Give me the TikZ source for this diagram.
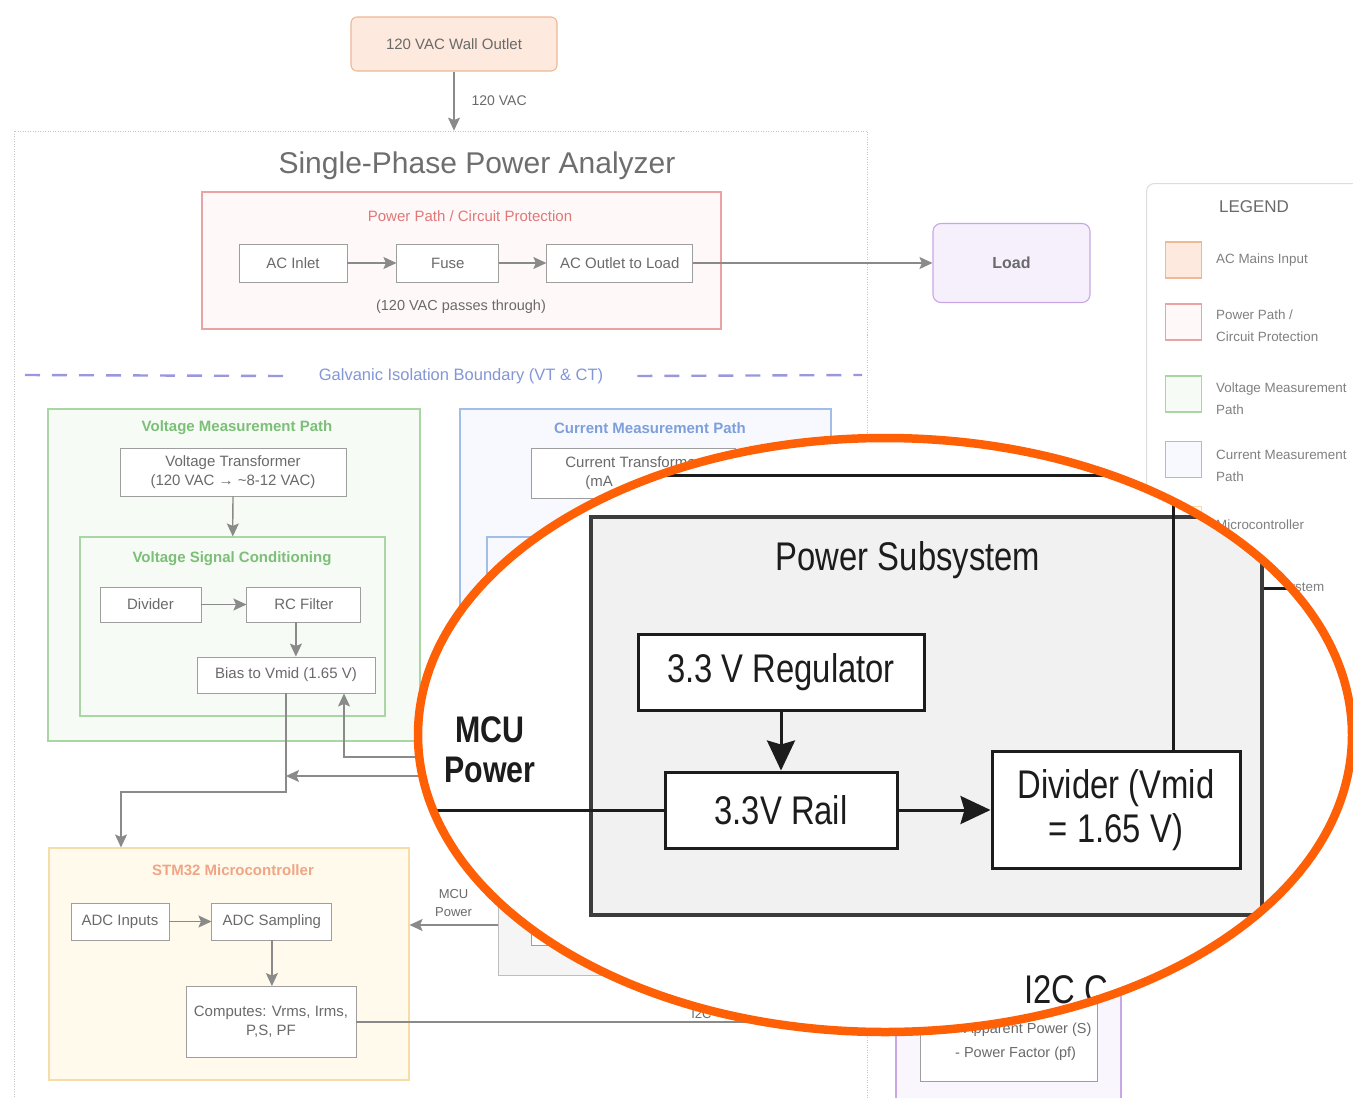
\documentclass[tikz,border=0pt]{standalone}
\usepackage{fontspec}
\setmainfont{Liberation Sans}
\newfontfamily\zoomfont[FakeStretch=0.82]{Liberation Sans}
\usepackage{tikz}
\usetikzlibrary{positioning}
\usetikzlibrary{shapes,arrows,calc,arrows.meta}

\definecolor{txtgray}{HTML}{6A6A6A}
\definecolor{titlegray}{HTML}{6E6E6E}
\definecolor{boxgray}{HTML}{9E9E9E}
\definecolor{arrgray}{HTML}{8A8A8A}
\definecolor{framegray}{HTML}{C4C4C4}
\definecolor{acfill}{HTML}{FDE9DD}
\definecolor{acdraw}{HTML}{EFB896}
\definecolor{redline}{HTML}{E9A3A3}
\definecolor{redfill}{HTML}{FFF8F8}
\definecolor{redtext}{HTML}{E07878}
\definecolor{loadfill}{HTML}{F6F0FC}
\definecolor{loaddraw}{HTML}{C9A6E6}
\definecolor{galvdraw}{HTML}{9B97DC}
\definecolor{galvtext}{HTML}{8396D6}
\definecolor{grnline}{HTML}{AAD6A5}
\definecolor{grnfill}{HTML}{F7FBF5}
\definecolor{grntext}{HTML}{7CBF78}
\definecolor{bluline}{HTML}{A2BDE7}
\definecolor{blufill}{HTML}{F7F9FE}
\definecolor{blutext}{HTML}{7D9FDC}
\definecolor{mculine}{HTML}{F6DCA8}
\definecolor{mcufill}{HTML}{FFFAEC}
\definecolor{mcutext}{HTML}{F0A585}
\definecolor{psfill}{HTML}{F5F5F5}
\definecolor{psdraw}{HTML}{BDBDBD}
\definecolor{leggray}{HTML}{DDDDDD}
\definecolor{zoomink}{HTML}{1C1C1C}
\definecolor{zoomedge}{HTML}{3C3C3C}
\definecolor{zoomfill}{HTML}{F1F1F1}
\definecolor{ringorange}{HTML}{FF5F05}

\tikzset{
    blk/.style={draw=boxgray, fill=white, line width=0.9pt, text=txtgray, inner sep=0pt, align=center, font=\fontsize{15}{19}\selectfont},
    grp/.style={line width=1.1pt, inner sep=0pt},
    ttl/.style={font=\bfseries\fontsize{15}{18}\selectfont, inner sep=0pt},
    lbl/.style={text=txtgray, inner sep=0pt, font=\fontsize{14.5}{22}\selectfont},
    arr/.style={draw=arrgray, line width=1.3pt, -{Stealth[length=13pt,width=12pt,inset=2.5pt]}},
    galvdash/.style={draw=galvdraw, line width=2.4pt, dash pattern=on 15pt off 12pt},
    zoomtxt/.style={text=zoomink, inner sep=0pt, align=center, font=\zoomfont\fontsize{40}{44}\selectfont},
    zoombox/.style={zoomtxt, draw=zoomink, fill=white, line width=3pt},
    zoomline/.style={draw=zoomink, line width=3pt},
    zoomarr/.style={zoomline, -{Stealth[length=30pt,width=28pt,inset=4pt]}},
    zoomring/.style={draw=ringorange, line width=8.5pt}
}

\begin{document}
\begin{tikzpicture}[x=1pt, y=-1pt]
    % Canvas
    \useasboundingbox (0,0) rectangle (1353,1098);
    \fill[white] (0,0) rectangle (1353,1098);

    % Wall outlet and analyzer frame
    \node[draw=acdraw, fill=acfill, rounded corners=6pt, line width=1.1pt, minimum width=206pt, minimum height=54pt, text=txtgray, font=\fontsize{15}{18}\selectfont] (outlet) at (454,44) {120 VAC Wall Outlet};
    \node[draw=framegray, line width=0.8pt, dash pattern=on 1pt off 1.5pt, minimum width=853pt, minimum height=979pt] (analyzer) at (440.5,620.5) {};
    \draw[arr] (outlet.south) -- node[right=17pt, lbl, font=\fontsize{14}{17}\selectfont] {120 VAC} (outlet.south |- analyzer.north);
    \node[text=titlegray, font=\fontsize{30}{36}\selectfont] (title) at (477,166) {Single-Phase Power Analyzer};

    % Power path
    \node[grp, draw=redline, fill=redfill, minimum width=519pt, minimum height=137pt] (protect) at (461.5,260.5) {};
    \node[text=redtext, inner sep=0pt, font=\fontsize{15}{18}\selectfont] (protecttitle) at (470,216) {Power Path / Circuit Protection};
    \node[blk, minimum width=108pt, minimum height=38pt] (acin) at (293,263) {AC Inlet};
    \node[blk, minimum width=102pt, minimum height=38pt, right=49pt of acin] (fuse) {Fuse};
    \node[blk, minimum width=146pt, minimum height=38pt, right=47pt of fuse] (acout) {AC Outlet to Load};
    \draw[arr] (acin) -- (fuse);
    \draw[arr] (fuse) -- (acout);
    \node[lbl] (passnote) at (461,307) {(120 VAC passes through)};

    % Load
    \node[draw=loaddraw, fill=loadfill, rounded corners=8pt, line width=1.1pt, minimum width=157pt, minimum height=79pt, text=txtgray, font=\bfseries\fontsize{16}{19}\selectfont] (load) at (1011.5,263) {Load};
    \draw[arr] (acout) -- (load);

    % Isolation boundary
    \node[text=galvtext, inner sep=0pt, font=\fontsize{16.5}{20}\selectfont] (galv) at (461,376) {Galvanic Isolation Boundary (VT \& CT)};
    \coordinate (isoleft) at (25,375);
    \coordinate (isoright) at (862,375);
    \draw[galvdash] (isoleft) -- ([xshift=-35pt]galv.west);
    \draw[galvdash] ([xshift=34pt]galv.east) -- (isoright);

    % Voltage measurement path
    \node[grp, draw=grnline, fill=grnfill, minimum width=372pt, minimum height=332pt] (vpath) at (234,575) {};
    \node[ttl, text=grntext] (vpathtitle) at (237,428) {Voltage Measurement Path};
    \node[blk, minimum width=226pt, minimum height=48pt] (vt) at (233,472) {Voltage Transformer\\(120 VAC → \textasciitilde 8-12 VAC)};
    \node[grp, draw=grnline, fill=grnfill, minimum width=305pt, minimum height=179pt] (vsc) at (232.5,626.5) {};
    \draw[arr] (vt) -- (vsc);
    \node[ttl, text=grntext] (vsctitle) at (232,559) {Voltage Signal Conditioning};
    \node[blk, minimum width=101pt, minimum height=35pt] (divider) at (150.5,604.5) {Divider};
    \node[blk, minimum width=114pt, minimum height=35pt, right=45pt of divider] (rcf) {RC Filter};
    \node[blk, minimum width=178pt, minimum height=36pt] (bias) at (286,675) {Bias to Vmid (1.65 V)};
    \draw[arr] (divider) -- (rcf);
    \draw[arr] ([xshift=-8pt]rcf.south) -- ([xshift=-8pt]rcf.south |- bias.north);

    % Current measurement path
    \node[grp, draw=bluline, fill=blufill, minimum width=371pt, minimum height=382pt] (ipath) at (645.5,600) {};
    \node[ttl, text=blutext] (ipathtitle) at (650,428) {Current Measurement Path};
    \node[blk, align=left, minimum width=204pt, minimum height=50pt] (ct) at (633,473) {Current Transformer\\\hspace*{20pt}(mA};
    \node[grp, draw=bluline, fill=blufill, minimum width=323pt, minimum height=223pt] (isc) at (648.5,648.5) {};

    % Power subsystem (small)
    \node[draw=psdraw, fill=psfill, line width=0.9pt, minimum width=284pt, minimum height=100pt] (pwrsmall) at (640,925) {};
    \node[blk, minimum width=118pt, minimum height=55pt] (railsmall) at (590,917.5) {};

    % Microcontroller
    \node[grp, draw=mculine, fill=mcufill, minimum width=360pt, minimum height=232pt] (stm) at (229,964) {};
    \node[ttl, text=mcutext] (stmtitle) at (233,870) {STM32 Microcontroller};
    \node[blk, minimum width=98pt, minimum height=37pt] (adcin) at (120,921.5) {ADC Inputs};
    \node[blk, minimum width=120pt, minimum height=37pt, right=42pt of adcin] (adcs) {ADC Sampling};
    \node[blk, minimum width=170pt, minimum height=71pt] (comp) at (271,1022) {Computes: Vrms, Irms,\\P,S, PF};
    \draw[arr] (adcin) -- (adcs);
    \draw[arr] (adcs) -- (adcs |- comp.north);

    % Signal links
    \coordinate (vbend) at (121,792);
    \draw[arr] (bias.south) |- (vbend) -- (vbend |- stm.north);
    \coordinate (vmidtap) at (560,757);
    \draw[arr] (vmidtap) -| ([xshift=58pt]bias.south);
    \coordinate (ctap) at (560,776);
    \draw[arr] (ctap) -- (ctap -| bias.south);
    \draw[arr] (pwrsmall.west) -- node[above=8pt, lbl, align=center, font=\fontsize{13}{18}\selectfont] (mcupwrlbl) {MCU\\Power} (pwrsmall.west -| stm.east);

    % Display / output
    \node[grp, draw=loaddraw, fill=loadfill!60, minimum width=225pt, minimum height=170pt] (disp) at (1008.5,1030) {};
    \node[blk, minimum width=177pt, minimum height=106pt] (dispinner) at (1008.5,1028) {};
    \node[lbl, align=left, anchor=west, font=\fontsize{14.5}{24}\selectfont] (metrics) at (955,1042) {- Apparent Power (S)\\- Power Factor (pf)};
    \draw[draw=arrgray, line width=1.3pt] (comp.east) -- node[pos=0.64, above=3pt, lbl, font=\fontsize{13}{16}\selectfont] (i2clbl) {I2C} (comp.east -| disp.west);

    % Legend
    \node[draw=leggray, fill=white, rounded corners=8pt, line width=1pt, minimum width=240pt, minimum height=580pt, anchor=north west] (legend) at (1146,183) {};
    \node[text=txtgray, inner sep=0pt, font=\fontsize{17}{20}\selectfont] (legendtitle) at (1254,207) {LEGEND};
    \foreach \sy/\ty/\fc/\dc/\txt [count=\i] in {
        260/260/acfill/acdraw/{AC Mains Input},
        322/326/redfill/redline/{Power Path /\\Circuit Protection},
        394/398.5/grnfill/grnline/{Voltage Measurement\\Path},
        459.5/466/blufill/bluline/{Current Measurement\\Path},
        524.5/525/mcufill/mculine/{Microcontroller},
        588/588/psfill/psdraw/{Power Subsystem}}
    {
        \node[draw=\dc, fill=\fc, line width=1.1pt, minimum size=36pt] (legsq\i) at (1183.5,\sy) {};
        \node[lbl, align=left, anchor=west, text=txtgray!85, font=\fontsize{13.4}{22}\selectfont] (legtx\i) at (1216,\ty) {\txt};
    }

    % Magnified view
    \begin{scope}
        \clip (885,735) ellipse [x radius=467, y radius=297];
        \fill[white] (380,420) rectangle (1353,1098);
        \node[draw=zoomedge, fill=zoomfill, line width=3.5pt, minimum width=671pt, minimum height=398pt] (psub) at (926.5,716) {};
        \node[zoomtxt] (psubtitle) at (908,560) {Power Subsystem};
        \node[zoombox, minimum width=286pt, minimum height=76pt] (reg) at (781,672) {3.3 V Regulator};
        \node[zoombox, minimum width=232pt, minimum height=76pt] (rail) at (781,810) {3.3V Rail};
        \node[zoombox, minimum width=248pt, minimum height=117pt] (vmiddiv) at (1116,810) {Divider (Vmid\\= 1.65 V)};
        \node[zoomtxt, font=\zoomfont\bfseries\fontsize{37}{40}\selectfont] (mcupwr) at (490,750) {MCU\\Power};
        \node[zoomtxt, anchor=west] (i2czoom) at (1024,990) {I2C C};
        \coordinate (mcufeed) at (400,810);
        \coordinate (busleft) at (600,475);
        \draw[zoomarr] (reg) -- (rail);
        \draw[zoomarr] (rail) -- (vmiddiv);
        \draw[zoomline] (mcufeed) -- (rail.west);
        \draw[zoomline] ([xshift=57pt]vmiddiv.north) |- (busleft);
        \draw[zoomline] ([yshift=128pt]psub.east) -- ++(60,0);
    \end{scope}
    \draw[zoomring] (885,735) ellipse [x radius=467, y radius=297];
\end{tikzpicture}
\end{document}
